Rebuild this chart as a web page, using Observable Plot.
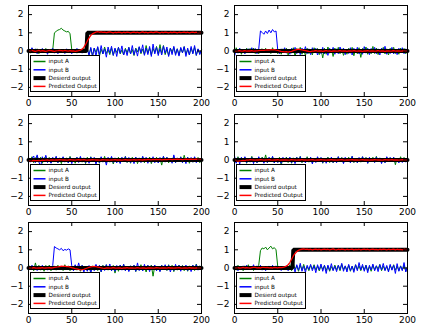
<!DOCTYPE html>
<html><head><meta charset="utf-8">
<script src="https://cdn.jsdelivr.net/npm/d3@7"></script>
<script src="https://cdn.jsdelivr.net/npm/@observablehq/plot@0.6"></script>
<style>
body{margin:0;background:#fff;}
#fig{position:relative;width:423px;height:328px;overflow:hidden;background:#fff;}
.panel{position:absolute;}
</style></head><body><div id="fig"></div>
<script>
// time axis (every 2nd step) and tick labels
const t = d3.range(0, 201, 2);
const xTicks = [0, 50, 100, 150, 200];
const yTicks = [-2, -1, 0, 1, 2];
const seriesNames = ["input A", "input B", "Desierd output", "Predicted Output"];
const seriesColors = ["#008000", "#0000ff", "#000000", "#ff0000"];

// ---- panel 1 (top left) ----
const inputA_1 = [.08,-.12,.15,.03,-.1,.12,-.15,.05,.1,-.08,.14,-.1,.04,.1,.06,
1.0,1.08,1.15,1.18,1.25,1.15,1.1,1.05,1.08,.95,
.08,-.06,.04,-.12,.08,.02,-.1,.14,-.05,.1,
-.2,.14,-.25,.16,-.08,.2,-.28,.1,-.16,.22,
-.14,.08,-.2,.16,-.24,.12,-.08,.2,-.16,.06,
-.22,.15,-.1,.2,-.16,.08,-.25,.16,-.05,.22,
-.15,.1,-.2,.3,-.12,.16,-.22,.14,-.08,.25,
-.16,.35,-.14,.3,-.2,.1,-.24,.16,-.06,.2,
-.16,.12,-.22,.15,-.1,.24,-.18,.08,-.2,.16,
-.12,.2,-.24,.1,-.15,.06];
const inputB_1 = [.15,-.1,.18,-.05,.12,-.15,.08,-.04,.14,-.1,
.06,-.18,.1,-.08,.15,-.12,.05,-.15,.1,-.06,
.08,-.14,.12,-.1,.04,-.15,.1,-.05,.14,-.08,
.06,-.12,.05,-.1,.08,-.24,.2,-.3,.16,-.28,
.24,-.2,.3,-.16,.12,-.34,.22,-.1,.26,-.24,
.16,-.3,.2,-.12,.28,-.22,.1,-.25,.2,-.16,
.3,-.2,.12,-.28,.24,-.1,.34,-.24,.16,-.2,
.25,-.3,.38,-.16,.2,-.25,.14,-.22,.28,-.12,
.22,-.3,.16,-.2,.26,-.24,.12,-.28,.2,-.1,
.24,-.3,.16,-.22,.25,-.16,.3,-.24,.12,-.2,
.08];
const predicted_1 = [.02,-.01,.03,.0,-.02,.01,.03,-.01,.02,.0,
-.02,.01,.03,.02,.0,-.02,.01,.02,.04,.02,
.0,.03,.01,-.01,.02,.0,.01,-.02,.0,.02,
.05,.1,.2,.36,.55,.72,.86,.95,1.0,1.04,
1.06,1.03,1.05,1.02,1.04,1.01,1.03,1.05,1.02,1.0,
1.03,1.01,1.04,1.02,1.0,1.03,1.01,1.04,1.02,1.0,
1.02,1.04,1.01,1.03,1.0,1.02,1.05,1.01,1.03,1.0,
1.02,1.04,1.01,1.03,1.05,1.02,1.0,1.03,1.01,1.04,
1.02,1.0,1.03,1.01,1.04,1.02,1.0,1.03,1.01,1.02,
1.04,1.01,1.03,1.0,1.02,1.04,1.01,1.03,1.0,1.02,
1.01];
const desiredX_1 = [0, 67, 68, 200];
const desiredY_1 = [0, 0, 1, 1];

// ---- panel 2 (top right) ----
const inputA_2 = [-.15,.18,-.08,.12,-.18,.1,-.12,.15,-.06,.14,
-.1,.16,-.14,.08,-.15,.06,.12,-.1,.15,-.08,
.1,-.14,.18,-.06,.1,-.15,.08,-.18,.12,-.1,
.15,-.22,.1,-.12,.18,-.3,.14,-.08,.2,-.18,
.1,-.26,.15,-.14,.08,-.22,.18,-.1,.14,-.2,
.08,-.38,.15,-.18,.22,-.12,.1,-.3,.16,-.1,
.2,-.15,.12,-.24,.08,-.18,.15,-.12,.2,-.26,
.1,-.15,.18,-.35,.14,-.1,.22,-.18,.08,-.15,
.25,-.14,.16,-.2,.1,-.1,.2,-.16,.12,-.22,
.15,-.08,.2,-.14,.1,-.18,.16,-.1,.14,-.15,
.06];
const inputB_2 = [-.3,.08,-.12,.15,-.06,.1,-.15,.06,.12,-.1,
.18,-.08,.14,-.15,.1,
1.1,1.02,.92,1.1,.96,1.15,1.0,1.18,1.05,1.1,
.04,-.15,.12,-.08,.18,
-.12,.08,-.18,.15,-.1,.2,-.14,.1,-.2,.16,
-.08,.24,-.15,.12,-.2,.18,-.1,.15,-.22,.1,
-.14,.2,-.16,.1,-.24,.15,-.08,.2,-.18,.12,
-.15,.22,-.1,.16,-.2,.1,-.14,.18,-.22,.15,
-.1,.2,-.16,.1,-.18,.24,-.12,.15,-.2,.14,
-.1,.2,-.15,.12,-.22,.16,-.1,.26,-.18,.08,
-.14,.2,-.16,.1,-.2,.15,-.1,.18,-.15,.12,
-.08];
const predicted_2 = [.0,-.02,.01,.02,-.01,.0,.02,-.01,.01,.0,
.02,-.01,.0,.01,.02,.03,.04,.03,.05,.06,
.05,.07,.06,.08,.05,.03,.0,-.02,-.03,-.05,
-.04,-.06,-.03,-.02,.02,.05,.08,.1,.08,.06,
.04,.02,.0,-.02,-.03,-.01,.0,.02,-.01,.0,
.01,-.02,.0,.02,-.01,.01,-.02,.0,.01,-.01,
.0,.02,-.01,.0,.01,-.02,.0,.01,-.01,.02,
.0,-.01,.01,.0,-.02,.01,.0,.02,-.01,.0,
.01,-.01,.0,.02,-.01,.0,.01,-.02,.0,.01,
-.01,.0,.02,-.01,.0,.01,-.01,.0,.02,.0,
.0];
const desiredX_2 = [0, 200];
const desiredY_2 = [0, 0];

// ---- panel 3 (middle left) ----
const inputA_3 = [.12,-.08,.18,-.15,.1,.22,-.12,.15,-.18,.08,
.2,-.1,.14,-.16,.1,-.06,.18,-.14,.08,-.2,
.15,-.1,.12,-.15,.2,-.08,.1,-.18,.14,-.06,
.16,-.12,.1,-.2,.15,-.1,.18,-.08,.12,-.15,
.1,-.18,.14,-.1,.2,-.15,.08,-.12,.16,-.22,
.1,-.1,.15,-.16,.12,-.08,.2,-.14,.1,-.18,
.15,-.1,.14,-.2,.08,-.12,.18,-.15,.1,-.1,
.16,-.2,.12,-.08,.15,-.14,.1,-.28,.2,-.1,
.14,-.16,.1,-.12,.2,-.15,.08,-.1,.18,-.14,
.26,-.08,.15,-.18,.1,-.12,.16,-.1,.14,-.15,
.08];
const inputB_3 = [.15,-.12,.08,.22,-.15,.28,-.1,-.38,.18,-.08,
.26,-.14,.1,-.18,.15,-.1,.2,-.15,.12,-.08,
.18,-.12,.1,-.16,.14,-.2,.08,-.1,.15,-.14,
.2,-.1,.12,-.15,.08,-.18,.16,-.1,.14,-.22,
.1,-.15,.18,-.12,.1,-.28,.15,-.08,.2,-.14,
.12,-.16,.08,-.2,.15,-.1,.18,-.12,.14,-.15,
.1,-.2,.16,-.1,.12,-.14,.2,-.08,.15,-.18,
.1,-.12,.18,-.15,.08,-.16,.14,-.1,.2,-.12,
.15,-.1,.1,-.18,.28,-.14,.12,-.08,.16,-.15,
.1,-.2,.15,-.1,.14,-.12,.18,-.15,.08,-.1,
.06];
const predicted_3 = [-.04,-.03,-.05,-.02,-.03,-.04,-.02,-.03,-.01,-.02,
-.01,.0,-.02,.01,.0,-.01,.01,.0,.02,.01,
.0,.01,-.01,.0,.02,.01,.0,-.01,.01,.02,
.0,.01,.02,.0,-.01,.01,.0,.02,.01,.0,
.01,-.01,.0,.02,.01,.0,.01,-.01,.0,.01,
.02,.0,.01,.0,-.01,.01,.02,.0,.01,.0,
.01,.02,.0,.01,.02,.01,.0,.02,.01,.03,
.02,.01,.03,.02,.04,.02,.03,.01,.02,.03,
.02,.04,.03,.02,.04,.03,.05,.03,.04,.02,
.03,.05,.04,.03,.05,.04,.03,.05,.04,.03,
.04];
const desiredX_3 = [0, 200];
const desiredY_3 = [0, 0];

// ---- panel 4 (middle right) ----
const inputA_4 = [.08,-.15,.18,-.06,.12,-.1,.15,-.18,.1,-.08,
.2,-.12,.1,-.15,.14,-.08,.16,-.1,.28,-.14,
.12,-.1,.18,-.15,.08,-.12,.15,-.3,.1,-.08,
.16,-.14,.1,-.18,.12,-.06,.15,-.1,.2,-.15,
.1,-.08,.18,-.12,.14,-.16,.08,-.1,.15,-.1,
.12,-.18,.1,-.08,.16,-.14,.1,-.15,.08,-.12,
.18,-.1,.14,-.16,.1,-.1,.15,-.08,.2,-.14,
.1,-.15,.08,-.12,.18,-.1,.14,-.18,.1,-.08,
.15,-.12,.2,-.1,.1,-.15,.08,-.14,.16,-.1,
.12,-.08,.15,-.26,.1,-.12,.18,-.1,.14,-.08,
.1];
const inputB_4 = [.22,-.18,.12,-.22,.15,-.1,.18,-.15,.08,-.12,
.14,-.2,.1,-.15,.18,-.1,.12,-.18,.08,-.14,
.15,-.1,.2,-.16,.1,-.14,.08,-.18,.15,-.1,
.12,-.08,.16,-.15,.1,-.2,.14,-.1,.18,-.12,
.08,-.16,.12,-.1,.15,-.22,.1,-.14,.18,-.08,
.14,-.15,.1,-.18,.12,-.1,.16,-.14,.08,-.15,
.18,-.1,.12,-.2,.15,-.08,.1,-.16,.2,-.12,
.1,-.15,.14,-.1,.18,-.08,.12,-.18,.15,-.1,
.1,-.14,.16,-.08,.12,-.2,.1,-.15,.18,-.1,
.14,-.1,.15,-.12,.08,-.16,.1,-.14,.1,-.12,
.08];
const predicted_4 = [.02,-.03,-.06,-.05,-.04,-.02,-.03,.0,-.01,.02,
.01,.0,-.01,.01,.0,.02,.01,-.01,.0,.01,
.02,.0,-.01,.01,.0,.02,-.01,.0,.01,.0,
.01,-.01,.0,.02,.01,.0,-.01,.01,.0,.02,
.0,.01,-.01,.0,.01,.02,.0,-.01,.01,.0,
.02,.01,.0,-.01,.01,.0,.02,.0,.01,-.01,
.0,.01,.02,.0,-.01,.01,.0,.01,.02,.0,
.01,.0,-.01,.01,.02,.0,.01,.0,-.01,.01,
.0,.02,.01,.0,.01,-.01,.0,.02,.01,.0,
.01,.02,.0,.01,.0,-.01,.01,.02,.0,.01,
.0];
const desiredX_4 = [0, 200];
const desiredY_4 = [0, 0];

// ---- panel 5 (bottom left) ----
const inputA_5 = [.18,-.08,.12,-.15,.28,-.1,.15,-.12,.08,-.18,
.14,-.1,.16,-.15,.08,.1,-.12,.15,-.08,.1,
-.14,.18,-.08,.12,-.15,.06,-.1,.15,-.12,.08,
-.18,.14,-.1,.1,-.15,.08,-.2,.12,-.1,.16,
-.14,.1,-.22,.15,-.08,.18,-.12,.1,-.15,.14,
-.28,.1,-.18,.15,-.1,.2,-.14,.08,-.16,.12,
-.1,.15,-.2,.1,-.12,.18,-.15,.08,-.22,.14,
-.1,.16,-.45,.12,-.15,.1,-.18,.15,-.08,.12,
-.14,.18,-.1,.15,-.2,.1,-.12,.16,-.08,.14,
-.15,.1,-.18,.12,-.1,.15,-.14,.22,-.1,.12,
-.08];
const inputB_5 = [.08,-.1,.15,-.06,.12,-.14,.1,-.05,.15,-.1,
.06,-.12,.1,-.08,.14,
1.18,1.1,1.05,1.0,1.08,.95,1.02,.98,1.05,1.0,
.12,-.15,.18,-.1,.28,
-.12,.15,-.22,.1,-.18,.14,-.28,.1,-.15,.2,
-.1,.15,-.2,.12,-.14,.18,-.08,.22,-.15,.1,
-.18,.14,-.1,.16,-.12,.2,-.15,.1,-.2,.12,
-.1,.15,-.18,.28,-.14,.1,-.16,.2,-.08,.15,
-.2,.12,-.1,.16,-.15,.1,-.2,.14,-.08,.18,
-.12,.15,-.22,.1,-.14,.2,-.1,.15,-.18,.12,
-.1,.16,-.14,.1,-.2,.15,-.08,.18,-.12,.1,
.06];
const predicted_5 = [.0,.01,-.01,.02,.0,-.01,.01,.0,.02,-.01,
.0,.01,.02,.0,.01,.03,.05,.06,.08,.1,
.09,.1,.08,.07,.05,.02,.0,-.03,-.05,-.08,
-.1,-.09,-.07,-.04,.0,.03,.06,.08,.09,.07,
.05,.03,.01,-.01,-.02,.0,.01,-.01,.0,.02,
.0,-.01,.01,.0,-.02,.01,.0,.02,-.01,.0,
.01,-.01,.0,.02,.0,-.01,.01,.0,-.02,.01,
.0,.01,-.01,.0,.02,.01,-.01,.0,.01,.0,
-.01,.02,.0,.01,-.01,.0,.01,.02,.0,-.01,
.01,.0,-.01,.02,.0,.01,-.01,.0,.01,.0,
.0];
const desiredX_5 = [0, 200];
const desiredY_5 = [0, 0];

// ---- panel 6 (bottom right) ----
const inputA_6 = [.08,-.12,.15,-.06,.1,-.15,.12,-.05,.18,-.1,
.06,-.14,.1,-.08,.15,
.95,1.1,1.05,1.15,1.0,1.1,1.2,1.05,1.12,1.0,
.08,-.05,.1,-.04,.06,
.0,-.1,.18,-.15,.28,-.08,.12,-.18,.15,-.1,
.2,-.12,.08,-.15,.14,-.06,.18,-.1,.1,-.16,
.12,-.08,.15,-.14,.1,-.18,.08,-.12,.16,-.1,
.14,-.15,.2,-.08,.1,-.12,.15,-.18,.1,-.14,
.18,-.08,.12,-.15,.1,-.1,.16,-.14,.08,-.18,
.15,-.1,.12,-.06,.2,-.15,.1,-.12,.08,-.16,
.14,-.08,.18,-.12,.1,-.15,.12,-.1,.15,-.18,
.08];
const inputB_6 = [.04,.1,-.15,.06,-.1,.12,-.05,.15,-.1,.08,
-.06,.18,-.1,.12,-.08,.15,-.12,.1,-.15,.06,
.1,-.1,.15,-.08,.12,-.06,.1,-.14,.08,-.05,
.12,-.15,.08,-.1,.14,-.22,.18,-.12,.26,-.18,
.1,-.24,.15,-.08,.2,-.15,.12,-.26,.18,-.1,
.22,-.18,.14,-.3,.16,-.12,.24,-.15,.1,-.2,
.15,-.08,.26,-.18,.12,-.22,.2,-.14,.1,-.24,
.18,-.15,.3,-.1,.2,-.18,.14,-.26,.15,-.1,
.22,-.16,.12,-.2,.18,-.1,.25,-.15,.14,-.22,
.2,-.12,.15,-.3,.24,-.18,.1,-.15,.3,-.22,
.08];
const predicted_6 = [.01,.0,.02,-.01,.01,.03,.0,.02,.01,-.01,
.02,.04,.03,.01,.02,.0,.03,.04,.02,.03,
.01,.02,.0,.03,.02,.01,.03,.02,.04,.06,
.1,.18,.3,.48,.66,.8,.9,.97,1.01,1.03,
1.05,1.02,1.04,1.01,1.03,1.0,1.02,1.04,1.01,1.03,
1.0,1.02,1.04,1.01,1.03,1.0,1.02,1.05,1.01,1.0,
1.03,1.01,1.04,1.02,1.0,1.03,1.01,1.02,1.04,1.0,
1.02,1.01,1.03,1.0,1.02,1.04,1.01,1.03,1.0,1.02,
1.04,1.01,1.02,1.0,1.03,1.01,1.04,1.02,1.0,1.03,
1.01,1.02,1.04,1.0,1.03,1.01,1.02,1.0,1.03,1.01,
1.02];
const desiredX_6 = [0, 67, 68, 200];
const desiredY_6 = [0, 0, 1, 1];

const panels = [
  {A: inputA_1, B: inputB_1, P: predicted_1, DX: desiredX_1, DY: desiredY_1},
  {A: inputA_2, B: inputB_2, P: predicted_2, DX: desiredX_2, DY: desiredY_2},
  {A: inputA_3, B: inputB_3, P: predicted_3, DX: desiredX_3, DY: desiredY_3},
  {A: inputA_4, B: inputB_4, P: predicted_4, DX: desiredX_4, DY: desiredY_4},
  {A: inputA_5, B: inputB_5, P: predicted_5, DX: desiredX_5, DY: desiredY_5},
  {A: inputA_6, B: inputB_6, P: predicted_6, DX: desiredX_6, DY: desiredY_6}
];

const W = 212, H = 110, mL = 28, mR = 11, mT = 5, mB = 14;
const fW = W - mL - mR, fH = H - mT - mB, tk = 4;
const colLeft = [0, 206], rowTop = [0, 109, 217];
const rows = arr => arr.map((v, i) => ({t: t[i], v}));
const minusFmt = d => (d < 0 ? "\u2212" + Math.abs(d) : String(d));

function drawPanel(p) {
  const desired = p.DX.map((x, i) => ({t: x, v: p.DY[i]}));
  const chart = Plot.plot({
    width: W, height: H,
    marginLeft: mL, marginRight: mR, marginTop: mT, marginBottom: mB,
    style: {fontFamily: "DejaVu Sans", fontSize: "9px", color: "black", background: "transparent"},
    x: {domain: [0, 200], label: null},
    y: {domain: [-2.5, 2.5], label: null},
    marks: [
      Plot.line(rows(p.A), {x: "t", y: "v", stroke: seriesColors[0], strokeWidth: 1}),
      Plot.line(rows(p.B), {x: "t", y: "v", stroke: seriesColors[1], strokeWidth: 1}),
      Plot.line(desired, {x: "t", y: "v", stroke: seriesColors[2], strokeWidth: 4, strokeLinejoin: "miter"}),
      Plot.line(rows(p.P), {x: "t", y: "v", stroke: seriesColors[3], strokeWidth: 1.3}),
      Plot.ruleX(xTicks, {x: d => d, insetTop: fH - tk, stroke: "black"}),
      Plot.ruleX(xTicks, {x: d => d, insetBottom: fH - tk, stroke: "black"}),
      Plot.ruleY(yTicks, {y: d => d, insetRight: fW - tk, stroke: "black"}),
      Plot.ruleY(yTicks, {y: d => d, insetLeft: fW - tk, stroke: "black"}),
      Plot.frame({stroke: "black"}),
      Plot.axisX({ticks: xTicks, tickSize: 0, tickPadding: 3, tickFormat: d => String(d), label: null}),
      Plot.axisY({ticks: yTicks, tickSize: 0, tickPadding: 5, tickFormat: minusFmt, label: null})
    ]
  });
  // legend (lower left, inside the axes)
  const svg = d3.select(chart);
  const g = svg.append("g").attr("transform", `translate(${mL + 2.5},${mT + 50.5})`);
  g.append("rect").attr("width", 69).attr("height", 36).attr("fill", "white").attr("stroke", "black").attr("stroke-width", 1);
  const widths = [1.5, 1.5, 4, 1.5];
  seriesNames.forEach((name, i) => {
    const y = 6 + i * 8.3;
    g.append("line").attr("x1", 3).attr("x2", 15).attr("y1", y).attr("y2", y)
      .attr("stroke", seriesColors[i]).attr("stroke-width", widths[i]);
    g.append("text").attr("x", 18).attr("y", y).attr("dy", "0.35em")
      .attr("text-anchor", "start")
      .attr("font-family", "DejaVu Sans").attr("font-size", 5.7).attr("fill", "black").text(name);
  });
  return chart;
}

const fig = document.getElementById("fig");
panels.forEach((p, k) => {
  const div = document.createElement("div");
  div.className = "panel";
  div.style.left = colLeft[k % 2] + "px";
  div.style.top = rowTop[Math.floor(k / 2)] + "px";
  div.appendChild(drawPanel(p));
  fig.appendChild(div);
});
</script>
</body></html>
